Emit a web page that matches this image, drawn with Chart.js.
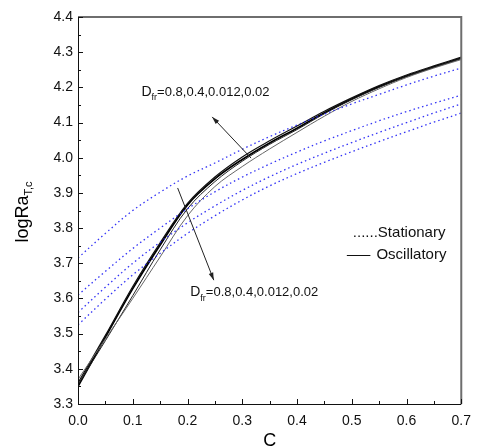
<!DOCTYPE html>
<html><head><meta charset="utf-8">
<script src="https://cdn.jsdelivr.net/npm/chart.js@4/dist/chart.umd.min.js"></script>
<style>html,body{margin:0;padding:0;background:#fff}</style>
</head><body>
<canvas id="c" width="480" height="448"></canvas>
<script>
// ---- data ----
const concentration = [0,0.05,0.1,0.15,0.2,0.25,0.3,0.35,0.4,0.45,0.5,0.55,0.6,0.65,0.7];
// Stationary curves, Dfr = 0.8, 0.4, 0.012, 0.02 (top to bottom)
const stationary1 = [3.715,3.785,3.850,3.902,3.948,3.985,4.024,4.060,4.093,4.124,4.153,4.180,4.207,4.232,4.255];
const stationary2 = [3.610,3.677,3.742,3.800,3.855,3.903,3.945,3.982,4.016,4.048,4.077,4.105,4.131,4.155,4.178];
const stationary3 = [3.560,3.632,3.700,3.760,3.815,3.863,3.907,3.946,3.981,4.013,4.043,4.072,4.100,4.127,4.153];
const stationary4 = [3.525,3.598,3.667,3.728,3.785,3.835,3.880,3.920,3.955,3.987,4.017,4.046,4.074,4.101,4.127];
// Oscillatory curves
const oscillatory1 = [3.350,3.490,3.628,3.752,3.866,3.940,3.995,4.042,4.084,4.128,4.167,4.202,4.232,4.258,4.283];
const oscillatory2 = [3.360,3.495,3.634,3.758,3.870,3.945,4.002,4.048,4.090,4.132,4.170,4.205,4.235,4.261,4.286];
const oscillatory3 = [3.370,3.485,3.600,3.718,3.835,3.918,3.975,4.025,4.072,4.118,4.160,4.196,4.228,4.255,4.279];
const oscillatory4 = [3.355,3.480,3.608,3.738,3.855,3.932,3.990,4.038,4.080,4.125,4.165,4.200,4.231,4.257,4.282];
const xTickLabels = ['0.0','0.1','0.2','0.3','0.4','0.5','0.6','0.7'];
const yTickLabels = ['3.3','3.4','3.5','3.6','3.7','3.8','3.9','4.0','4.1','4.2','4.3','4.4'];
const dfrLabel = '=0.8,0.4,0.012,0.02';
const legendLabels = ['......Stationary','Oscillatory'];

const pts = arr => concentration.map((c,i)=>({x:c,y:arr[i]}));
const blue = 'rgba(40,40,245,0.95)';
function stat(arr){return {data:pts(arr),borderColor:blue,borderWidth:1.3,borderDash:[1.5,3],pointRadius:0,tension:0.35,fill:false};}
function osc(arr,color,w){return {data:pts(arr),borderColor:color,borderWidth:w,pointRadius:0,tension:0.35,fill:false};}

const FONT = '"Liberation Sans", Arial, sans-serif';

const decor = {
  id:'decor',
  afterDatasetsDraw(chart){
    const ctx = chart.ctx, xs = chart.scales.x, ys = chart.scales.y, a = chart.chartArea;
    ctx.save();
    // frame: top & right gray
    ctx.strokeStyle = '#6e6e6e'; ctx.lineWidth = 2;
    ctx.beginPath(); ctx.moveTo(a.left, a.top); ctx.lineTo(a.right, a.top); ctx.lineTo(a.right, a.bottom); ctx.stroke();
    // left & bottom axes
    ctx.strokeStyle = '#111'; ctx.lineWidth = 1;
    ctx.beginPath(); ctx.moveTo(a.left+0.5, a.top); ctx.lineTo(a.left+0.5, a.bottom+0.5); ctx.lineTo(a.right, a.bottom+0.5); ctx.stroke();
    // inward ticks
    ctx.beginPath();
    for (let i=0;i<=22;i++){
      const v = 3.3 + i*0.05; const y = Math.round(ys.getPixelForValue(v))+0.5;
      const len = (i%2===0)?5:3;
      ctx.moveTo(a.left, y); ctx.lineTo(a.left+len, y);
    }
    for (let i=0;i<=14;i++){
      const v = i*0.05; const x = Math.round(xs.getPixelForValue(v))+0.5;
      const len = (i%2===0)?5:3;
      ctx.moveTo(x, a.bottom); ctx.lineTo(x, a.bottom-len);
    }
    ctx.stroke();

    // arrows
    function arrow(x0,y0,x1,y1){
      const X0=xs.getPixelForValue(x0),Y0=ys.getPixelForValue(y0),X1=xs.getPixelForValue(x1),Y1=ys.getPixelForValue(y1);
      ctx.strokeStyle='#222'; ctx.fillStyle='#222'; ctx.lineWidth=1;
      ctx.beginPath(); ctx.moveTo(X0,Y0); ctx.lineTo(X1,Y1); ctx.stroke();
      const ang=Math.atan2(Y1-Y0,X1-X0), L=8, W=0.3;
      ctx.beginPath(); ctx.moveTo(X1,Y1);
      ctx.lineTo(X1-L*Math.cos(ang-W),Y1-L*Math.sin(ang-W));
      ctx.lineTo(X1-L*Math.cos(ang+W),Y1-L*Math.sin(ang+W));
      ctx.closePath(); ctx.fill();
    }
    arrow(0.316,3.999,0.245,4.116);
    arrow(0.182,3.914,0.248,3.652);

    // D_fr labels
    function dfr(xv,yv){
      let X=xs.getPixelForValue(xv), Y=ys.getPixelForValue(yv);
      ctx.fillStyle='#111'; ctx.textBaseline='middle'; ctx.textAlign='left';
      ctx.font='14px '+FONT; ctx.fillText('D',X,Y); X+=ctx.measureText('D').width;
      ctx.font='9px '+FONT; ctx.fillText('fr',X,Y+6); X+=ctx.measureText('fr').width;
      ctx.font='13px '+FONT; ctx.fillText(dfrLabel,X,Y);
    }
    dfr(0.116,4.187);
    dfr(0.205,3.618);

    // legend
    ctx.font='15px '+FONT; ctx.textBaseline='middle'; ctx.fillStyle='#111';
    ctx.fillText(legendLabels[0], xs.getPixelForValue(0.502), ys.getPixelForValue(3.786));
    const ly = Math.round(ys.getPixelForValue(3.724))+0.5;
    ctx.strokeStyle='#111'; ctx.lineWidth=1;
    ctx.beginPath(); ctx.moveTo(xs.getPixelForValue(0.491), ly); ctx.lineTo(xs.getPixelForValue(0.534), ly); ctx.stroke();
    ctx.fillText(legendLabels[1], xs.getPixelForValue(0.545), ys.getPixelForValue(3.724));

    // axis titles
    ctx.fillStyle='#000';
    ctx.font='18px '+FONT; ctx.textAlign='center'; ctx.textBaseline='alphabetic';
    ctx.fillText('C', (a.left+a.right)/2, 446);
    ctx.save();
    ctx.translate(28, 212); ctx.rotate(-Math.PI/2);
    ctx.textAlign='left';
    ctx.font='18px '+FONT; const mw = ctx.measureText('logRa').width;
    ctx.font='11px '+FONT; const sw = ctx.measureText('T,c').width;
    const start = -(mw+sw)/2;
    ctx.font='18px '+FONT; ctx.fillText('logRa', start, 0);
    ctx.font='11px '+FONT; ctx.fillText('T,c', start+mw, 4);
    ctx.restore();
    ctx.restore();
  }
};

new Chart(document.getElementById('c'), {
  type:'line',
  data:{datasets:[
    stat(stationary1),stat(stationary2),stat(stationary3),stat(stationary4),
    osc(oscillatory3,'#666',1), osc(oscillatory4,'#222',1),
    osc(oscillatory2,'#111',1.2), osc(oscillatory1,'#000',1.8)
  ]},
  options:{
    responsive:false, animation:false, devicePixelRatio:1,
    layout:{padding:{left:0,top:17,right:10,bottom:0}},
    plugins:{legend:{display:false},tooltip:{enabled:false}},
    scales:{
      x:{type:'linear',min:0,max:0.7,
        grid:{display:false,drawTicks:false},border:{display:false},
        ticks:{stepSize:0.1,padding:9,color:'#111',font:{size:14,family:FONT},maxRotation:0,
          callback:(v)=>{const i=Math.round(v*10);return Math.abs(v*10-i)<1e-6?xTickLabels[i]:'';}},
        afterFit:s=>{s.height=44;}
      },
      y:{type:'linear',min:3.3,max:4.4,
        grid:{display:false,drawTicks:false},border:{display:false},
        ticks:{stepSize:0.1,padding:5,color:'#111',font:{size:14,family:FONT},
          callback:(v)=>{const i=Math.round((v-3.3)*10);return Math.abs((v-3.3)*10-i)<1e-6?yTickLabels[i]:'';}},
        afterFit:s=>{s.width=78;}
      }
    }
  },
  plugins:[decor]
});
</script>
</body></html>
